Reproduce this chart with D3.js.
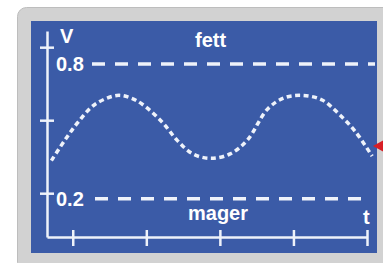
<!DOCTYPE html>
<html>
<head>
<meta charset="utf-8">
<script src="https://cdn.jsdelivr.net/npm/d3@7"></script>
<style>
	html, body { margin: 0; padding: 0; background: #ffffff; overflow: hidden; }
	#chart { width: 383px; height: 263px; }
	text { font-family: "Liberation Sans", Arial, sans-serif; font-weight: bold; fill: #ffffff; }
</style>
</head>
<body>
<div id="chart"></div>
<script>
// data
// ---------------------------
const curve_t = [0.71, 0.89, 1.07, 1.30, 1.60, 1.78, 1.95, 2.22, 2.42, 2.63, 2.88, 3.14, 3.37, 3.65, 3.88, 4.13, 4.39, 4.61, 4.84, 5.07];
const curve_v = [0.37, 0.46, 0.54, 0.62, 0.66, 0.65, 0.62, 0.54, 0.46, 0.40, 0.38, 0.40, 0.46, 0.60, 0.65, 0.66, 0.64, 0.58, 0.50, 0.39];

const ref_levels = [0.8, 0.2];
const ref_labels = ["0.8", "0.2"];
const y_ticks = [0.225, 0.55, 0.875];
const x_ticks = [1, 2, 3, 4, 5];

const c_frame = '#d2d2d2',
	c_frame_line = '#bdbdbd',
	c_panel = '#3b5ba7',
	c_line = '#eef2fa',
	c_arrow = '#d81e25';

const width = 383,
	height = 263;

function chart() {

	let svg = d3.select("#chart")
		.append("svg")
		.attr("width", width)
		.attr("height", height);

	// frame
	// ---------------------------
	svg.append("rect")
		.attr("x", 17.5)
		.attr("y", 7.5)
		.attr("width", 380)
		.attr("height", 264)
		.attr("rx", 9)
		.attr("fill", c_frame)
		.attr("stroke", c_frame_line)
		.attr("stroke-width", 1);

	svg.append("rect")
		.attr("x", 31)
		.attr("y", 21)
		.attr("width", 346)
		.attr("height", 232)
		.attr("fill", c_panel);

	// scales
	// ---------------------------
	let x = d3.scaleLinear()
		.domain([0.65, 5])
		.range([47, 367]);

	let y = d3.scaleLinear()
		.domain([0.03, 0.947])
		.range([237, 31]);

	// axis
	// ---------------------------
	let axis_x = svg.append("g")
		.attr("transform", "translate(0," + y(0.03) + ")")
		.call(d3.axisBottom(x)
			.tickValues(x_ticks)
			.tickSizeOuter(0)
			.tickSizeInner(9)
			.tickFormat("")
		);

	axis_x.selectAll(".tick line")
		.attr("y1", -7)
		.attr("y2", 9);

	let axis_y = svg.append("g")
		.attr("transform", "translate(" + x(0.65) + ",0)")
		.call(d3.axisLeft(y)
			.tickValues(y_ticks)
			.tickSizeOuter(0)
			.tickSizeInner(7)
			.tickFormat("")
		);

	axis_y.selectAll(".tick line")
		.attr("x1", -7)
		.attr("x2", 7);

	svg.selectAll(".domain, .tick line")
		.attr("stroke", c_line)
		.attr("stroke-width", 2.5);

	// reference lines
	// ---------------------------
	let ref_start = [92, 95],
		ref_end = [375, 367];

	svg.append("g")
		.selectAll("line")
		.data(ref_levels)
		.enter()
		.append("line")
		.attr("x1", (d, i) => ref_start[i])
		.attr("x2", (d, i) => ref_end[i])
		.attr("y1", d => y(d))
		.attr("y2", d => y(d))
		.attr("stroke", c_line)
		.attr("stroke-width", 3.5)
		.attr("stroke-dasharray", "13,10");

	svg.append("g")
		.selectAll("text")
		.data(ref_levels)
		.enter()
		.append("text")
		.attr("x", 56)
		.attr("y", d => y(d) + 7)
		.attr("font-size", 20)
		.text((d, i) => ref_labels[i]);

	// curve
	// ---------------------------
	let points = curve_t.map((t, i) => [t, curve_v[i]]);

	let line = d3.line()
		.x(d => x(d[0]))
		.y(d => y(d[1]))
		.curve(d3.curveCatmullRom);

	svg.append("path")
		.datum(points)
		.attr("d", line)
		.attr("fill", "none")
		.attr("stroke", c_line)
		.attr("stroke-width", 3.5)
		.attr("stroke-dasharray", "5,3.5");

	// labels
	// ---------------------------
	svg.append("text")
		.attr("x", 60)
		.attr("y", 43)
		.attr("font-size", 20)
		.text("V");

	svg.append("text")
		.attr("x", 195)
		.attr("y", 47)
		.attr("font-size", 20)
		.text("fett");

	svg.append("text")
		.attr("x", 188)
		.attr("y", 220)
		.attr("font-size", 20)
		.text("mager");

	svg.append("text")
		.attr("x", 363)
		.attr("y", 224)
		.attr("font-size", 20)
		.text("t");

	// arrow
	// ---------------------------
	svg.append("path")
		.attr("d", "M373,146 L386,139 L386,153 Z")
		.attr("fill", c_arrow);
}

window.onload = function() {
	chart();
}
</script>
</body>
</html>
